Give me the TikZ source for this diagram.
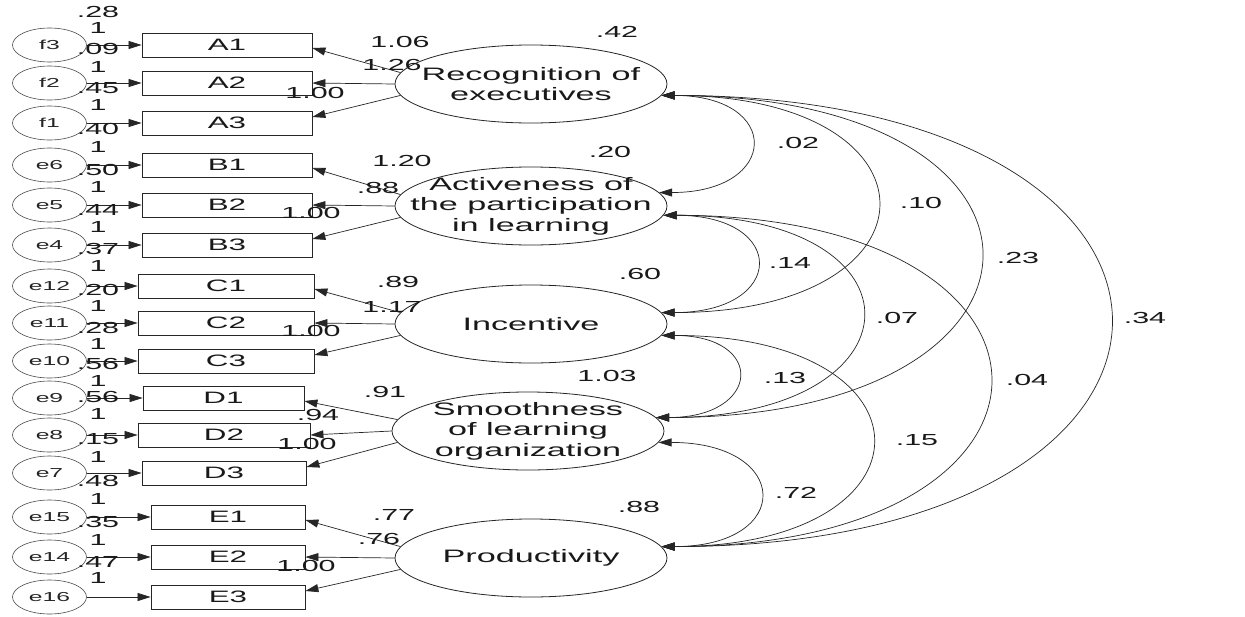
\documentclass[tikz,border=0pt]{standalone}
\usepackage{fontspec}
\setmainfont{Liberation Sans}
\usetikzlibrary{arrows.meta,shapes.geometric,calc}
\newcommand{\hs}[1]{\scalebox{1.9}[1]{#1}}
\newcommand{\covarc}[3]{%
  \draw[cov] (#1) .. controls ($(#1)+(#3,0)$) and ($(#2)+(#3,0)$) .. (#2);}
\begin{document}
\begin{tikzpicture}[x=1pt,y=-1pt,
  lat/.style={ellipse,draw=black!85,line width=0.8pt,minimum width=272pt,minimum height=78pt,inner sep=0pt},
  lattext/.style={align=center,font=\fontsize{18}{20.5}\selectfont,text=black!90,inner sep=0pt},
  err/.style={ellipse,draw=black!70,line width=0.6pt,minimum width=74pt,minimum height=34pt,inner sep=0pt,font=\fontsize{13}{13}\selectfont,text=black!85},
  obs/.style={rectangle,draw=black!85,line width=0.8pt,minimum height=24pt,inner sep=0pt,font=\fontsize{16.5}{16.5}\selectfont,text=black!90},
  num/.style={inner sep=0pt,font=\fontsize{16}{16}\selectfont,text=black!90},
  arr/.style={draw=black!85,line width=0.7pt,-{Triangle[length=13pt,width=8pt]}},
  cov/.style={draw=black!85,line width=0.7pt,{Triangle[length=13pt,width=8pt]}-{Triangle[length=13pt,width=8pt]}}
]
\useasboundingbox (0,0) rectangle (1245,616);
\fill[white] (0,0) rectangle (1245,616);

% latent variables
\node[lat,label={[lattext]center:{\hs{Recognition of}\\\hs{executives}}}] (rec) at (531,84) {};
\node[lat,label={[lattext]center:{\hs{Activeness of}\\\hs{the participation}\\\hs{in learning}}}] (act) at (531,206) {};
\node[lat,label={[lattext]center:{\hs{Incentive}}}] (inc) at (531,324) {};
\node[lat,label={[lattext]center:{\hs{Smoothness}\\\hs{of learning}\\\hs{organization}}}] (smo) at (528,431) {};
\node[lat,label={[lattext]center:{\hs{Productivity}}}] (pro) at (531,558) {};

% observed variables
\node[obs,minimum width=170pt] (A1) at (227,45) {\hs{A1}};
\node[obs,minimum width=170pt] (A2) at (227,83) {\hs{A2}};
\node[obs,minimum width=170pt] (A3) at (227,123) {\hs{A3}};
\node[obs,minimum width=170pt] (B1) at (227,165) {\hs{B1}};
\node[obs,minimum width=170pt] (B2) at (227,205) {\hs{B2}};
\node[obs,minimum width=170pt] (B3) at (227,245) {\hs{B3}};
\node[obs,minimum width=176pt] (C1) at (226,286) {\hs{C1}};
\node[obs,minimum width=176pt] (C2) at (226,323) {\hs{C2}};
\node[obs,minimum width=176pt] (C3) at (226,361) {\hs{C3}};
\node[obs,minimum width=161pt] (D1) at (223.5,398) {\hs{D1}};
\node[obs,minimum width=172pt] (D2) at (224,435) {\hs{D2}};
\node[obs,minimum width=164pt] (D3) at (224,473) {\hs{D3}};
\node[obs,minimum width=154pt] (E1) at (228,517) {\hs{E1}};
\node[obs,minimum width=154pt] (E2) at (228,557) {\hs{E2}};
\node[obs,minimum width=154pt] (E3) at (228,597) {\hs{E3}};

% error terms
\foreach \e/\b in {f3/A1,f2/A2,f1/A3,e6/B1,e5/B2,e4/B3,e12/C1,e11/C2,e10/C3,e9/D1,e8/D2,e7/D3,e15/E1,e14/E2,e16/E3}{
  \node[err] (\e) at (49.5,0 |- \b) {\hs{\e}};
  \draw[arr] (\e.east) -- (\b.west);
}

% loadings
\foreach \l/\a/\b/\c in {rec/A1/A2/A3,act/B1/B2/B3,inc/C1/C2/C3,smo/D1/D2/D3,pro/E1/E2/E3}{
  \draw[arr] (\l.175) -- ($(\a.east)+(0,3)$);
  \draw[arr] (\l.west) -- (\b.east);
  \draw[arr] (\l.185) -- ($(\c.east)+(0,-6)$);
}

% left-column labels
\foreach \t/\y [count=\i] in {.28/12,1/28,.09/49,1/67,.45/88,1/105,.40/129,1/147,.50/170,1/187,.44/210,1/227,.37/249,1/266,.20/290,1/306,.28/328,1/344,.56/364,1/381,.56/397,1/414,.15/439,1/457,.48/481,1/499,.35/522,1/540,.47/562,1/578}{
  \node[num] (lv\i) at (98,\y) {\hs{\t}};
}

% loading and variance labels
\foreach \t/\x/\y [count=\i] in {1.06/400/42,1.26/392/65,1.00/315/93,.42/617/32,
  1.20/402/161,.88/378/188,1.00/311/213,.20/610/152,
  .89/398/282,1.17/392/307,1.00/311/331,.60/640/274,
  .91/385/392,.94/318/415,1.00/307/444,1.03/607/376,
  .77/394/515,.76/379/539,1.00/306/566,.88/639/507}{
  \node[num] (lw\i) at (\x,\y) {\hs{\t}};
}

% covariances
\covarc{rec.-5}{act.6}{121}
\covarc{rec.-5}{inc.5}{287}
\covarc{rec.-5}{smo.6}{428}
\covarc{rec.-5}{pro.5}{597}
\covarc{act.-4.5}{inc.5}{125}
\covarc{act.-4.5}{smo.6}{269}
\covarc{act.-4.5}{pro.5}{435}
\covarc{inc.-5}{smo.6}{105}
\covarc{inc.-5}{pro.5}{280}
\covarc{smo.-5}{pro.5}{133}

\foreach \t/\x/\y [count=\i] in {.02/798/143,.10/921/203,.23/1018/258,.34/1145/318,.14/790/263,.07/897/318,.13/785/378,.04/1027/380,.15/917/440,.72/796/493}{
  \node[num] (lc\i) at (\x,\y) {\hs{\t}};
}
\end{tikzpicture}
\end{document}
